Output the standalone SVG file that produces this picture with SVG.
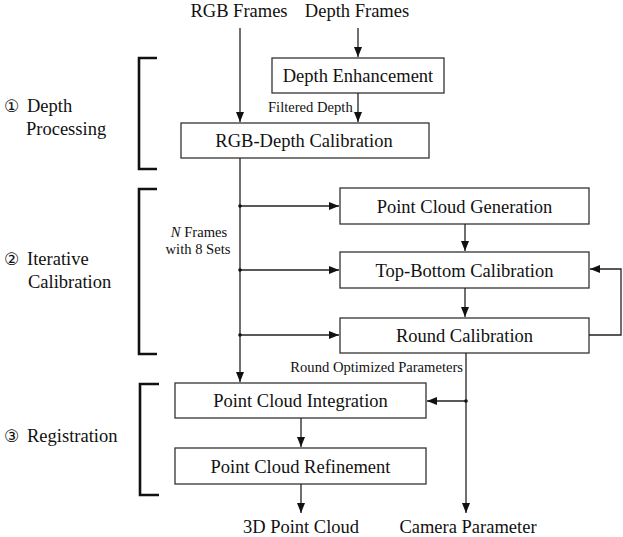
<svg xmlns="http://www.w3.org/2000/svg" width="623" height="537" viewBox="0 0 623 537">
<style>
.box{fill:#fff;stroke:#333;stroke-width:1.3}
.t{font-size:18.5px;fill:#111}
.c{text-anchor:middle}
.s{font-size:14.6px;fill:#111}
.ln{fill:none;stroke:#222;stroke-width:1.3}
.br{fill:none;stroke:#111;stroke-width:2.6}
.dot{fill:#111}
.cd{font-size:17px;fill:#111}
</style>
<defs>
<marker id="ah" viewBox="0 0 10 8" refX="10" refY="4" markerWidth="10" markerHeight="8" markerUnits="userSpaceOnUse" orient="auto">
<path d="M0,0 L10,4 L0,8 Z" fill="#111"/>
</marker>
</defs>
<rect width="623" height="537" fill="#fff"/>

<g id="inputs">
<text class="t c" font-family="Liberation Serif" x="239" y="17">RGB Frames</text>
<text class="t c" font-family="Liberation Serif" x="357" y="17">Depth Frames</text>
</g>

<g id="labels">
<text class="t" font-family="Liberation Serif"><tspan class="cd" font-family="DejaVu Sans" x="4" y="112">①</tspan><tspan x="27" y="112">Depth</tspan></text>
<text class="t" font-family="Liberation Serif" x="26" y="135">Processing</text>
<text class="t" font-family="Liberation Serif"><tspan class="cd" font-family="DejaVu Sans" x="4" y="265">②</tspan><tspan x="27" y="265">Iterative</tspan></text>
<text class="t" font-family="Liberation Serif" x="28" y="288">Calibration</text>
<text class="t" font-family="Liberation Serif"><tspan class="cd" font-family="DejaVu Sans" x="4" y="442">③</tspan><tspan x="27" y="442">Registration</tspan></text>
</g>

<g id="brackets">
<path class="br" d="M157,58 H139 V169 H157"/>
<path class="br" d="M157,189 H139 V354 H157"/>
<path class="br" d="M159,384 H140 V495 H159"/>
</g>

<g id="depth-enhancement">
<rect class="box" x="272" y="58" width="172" height="35"/>
<text class="t c" font-family="Liberation Serif" x="358" y="82">Depth Enhancement</text>
</g>

<g id="rgb-depth-calibration">
<rect class="box" x="181" y="123" width="248" height="35"/>
<text class="t c" font-family="Liberation Serif" x="304" y="147">RGB-Depth Calibration</text>
</g>

<g id="point-cloud-generation">
<rect class="box" x="340" y="188" width="249" height="36"/>
<text class="t c" font-family="Liberation Serif" x="464.5" y="212.5">Point Cloud Generation</text>
</g>

<g id="top-bottom-calibration">
<rect class="box" x="340" y="252" width="249" height="36"/>
<text class="t c" font-family="Liberation Serif" x="464.5" y="276.5">Top-Bottom Calibration</text>
</g>

<g id="round-calibration">
<rect class="box" x="340" y="318" width="249" height="35"/>
<text class="t c" font-family="Liberation Serif" x="464.5" y="342">Round Calibration</text>
</g>

<g id="point-cloud-integration">
<rect class="box" x="175" y="383" width="251" height="35"/>
<text class="t c" font-family="Liberation Serif" x="300.5" y="407">Point Cloud Integration</text>
</g>

<g id="point-cloud-refinement">
<rect class="box" x="175" y="448" width="251" height="36"/>
<text class="t c" font-family="Liberation Serif" x="300.5" y="472.5">Point Cloud Refinement</text>
</g>

<g id="outputs">
<text class="t c" font-family="Liberation Serif" x="301" y="533">3D Point Cloud</text>
<text class="t c" font-family="Liberation Serif" x="468" y="533">Camera Parameter</text>
</g>

<g id="connectors">
<path class="ln" d="M240,28 V122" marker-end="url(#ah)"/>
<path class="ln" d="M358,28 V57" marker-end="url(#ah)"/>
<path class="ln" d="M358,93 V122" marker-end="url(#ah)"/>
<path class="ln" d="M240,158 V382" marker-end="url(#ah)"/>
<path class="ln" d="M240,206 H339" marker-end="url(#ah)"/>
<path class="ln" d="M240,270 H339" marker-end="url(#ah)"/>
<path class="ln" d="M240,335 H339" marker-end="url(#ah)"/>
<circle class="dot" cx="240" cy="206" r="1.8"/>
<circle class="dot" cx="240" cy="270" r="1.8"/>
<circle class="dot" cx="240" cy="335" r="1.8"/>
<path class="ln" d="M465,224 V251" marker-end="url(#ah)"/>
<path class="ln" d="M465,288 V317" marker-end="url(#ah)"/>
<path class="ln" d="M589,335 H621 V269 H590" marker-end="url(#ah)"/>
<path class="ln" d="M466,353 V513" marker-end="url(#ah)"/>
<path class="ln" d="M466,401 H427" marker-end="url(#ah)"/>
<circle class="dot" cx="466" cy="401" r="1.8"/>
<path class="ln" d="M301,418 V447" marker-end="url(#ah)"/>
<path class="ln" d="M301,484 V513" marker-end="url(#ah)"/>
<text class="s" font-family="Liberation Serif" x="268" y="112">Filtered Depth</text>
<text class="s" font-family="Liberation Serif" x="463" y="372" text-anchor="end">Round Optimized Parameters</text>
<text class="s c" font-family="Liberation Serif" x="199" y="237"><tspan font-style="italic">N</tspan> Frames</text>
<text class="s c" font-family="Liberation Serif" x="198" y="254">with 8 Sets</text>
</g>
</svg>
